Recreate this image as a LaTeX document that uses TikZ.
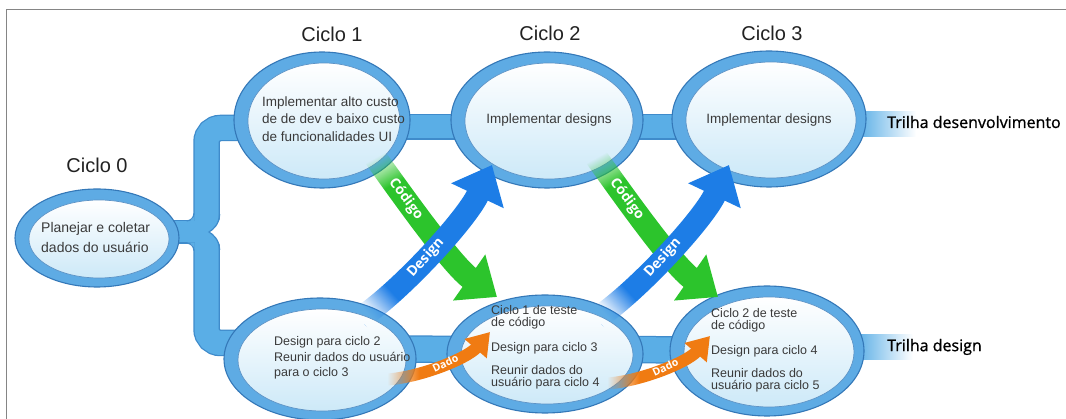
\documentclass[tikz,border=0pt]{standalone}
\usepackage{fontspec}
\setmainfont{Liberation Sans}
\newfontfamily\labelfont{Open Sans}
\newfontfamily\trackfont[FakeBold=1.0]{Open Sans}
\usetikzlibrary{shapes.geometric,arrows.meta,calc,fadings}

\pgfdeclarelayer{bars}
\pgfsetlayers{bars,main}

\definecolor{barblue}{HTML}{5AAEE6}
\definecolor{baredge}{HTML}{3F8BCB}
\definecolor{ringblue}{HTML}{5EABE4}
\definecolor{ringedge}{HTML}{3478B8}
\definecolor{lensblue}{HTML}{CDE9F8}
\definecolor{txtgray}{HTML}{3A3A3A}
\definecolor{titlegray}{HTML}{222222}
\definecolor{codegreen}{HTML}{2CC42C}
\definecolor{designblue}{HTML}{1D7DE6}
\definecolor{dataorange}{HTML}{F07B12}
\definecolor{framegray}{HTML}{858585}

% fading used at the tail of each flow arrow: transparent, then opaque
\pgfdeclarehorizontalshading{startfadeshade}{400bp}{color(0bp)=(black); color(10bp)=(black); color(42bp)=(white); color(400bp)=(white)}
\pgfdeclarefading{startfade}{\pgfuseshading{startfadeshade}}

\tikzset{
  cyc/.style={ellipse, inner sep=0pt, fill=ringblue, draw=ringedge, line width=1.1pt},
  lens/.style={top color=white, bottom color=lensblue, draw=ringedge!80, line width=0.7pt},
  ctext/.style={text=txtgray, align=left, inner sep=0pt, anchor=west},
  ciclotitle/.style={font=\fontsize{20}{24}\selectfont, text=titlegray, inner sep=0pt},
  trilha/.style={font=\trackfont\fontsize{16}{19}\selectfont, text=black, inner sep=0pt, anchor=west},
  fadestart/.style 2 args={path fading=startfade, fit fading=false, fading transform={shift={(#1)}, rotate=#2}},
  codearrow/.style={draw=codegreen, line width=23pt, -{Triangle[width=54pt,length=34pt]}},
  designarrow/.style={draw=designblue, line width=23pt, -{Triangle[width=56pt,length=34pt]}},
  dataarrow/.style={draw=dataorange, line width=12pt, -{Triangle[width=28pt,length=22pt]}},
  arrowlbl/.style={font=\labelfont\bfseries\fontsize{14}{16}\selectfont, text=white, inner sep=0pt, sloped},
  datalbl/.style={font=\labelfont\bfseries\fontsize{10.5}{12}\selectfont, text=white, inner sep=0pt, sloped},
}

% cycle ellipse: name, x, y (downwards), x radius, y radius
\newcommand\ciclo[5]{%
  \node[cyc, minimum width=2*#4, minimum height=2*#5] (#1) at (#2,-#3) {};
  \path[lens] ($(#1.center)+(2,-1)$) ellipse [x radius=#4-12, y radius=#5-10];
}

% the blue track bars, drawn once for the edge and once for the fill
\newcommand\barlayer[2]{%
  \begin{scope}[draw=#2]
    \draw[line width=24+#1, rounded corners=14] (toparm) -- (brtop) -- (brbot) -- (botarm);
    \draw[line width=21+#1] ([yshift=6]e0.center) -- (brmid);
    \draw[line width=23+#1] ([yshift=-7]t1.center) -- ([yshift=-8]t3.center);
    \draw[line width=25+#1] ([yshift=10]b1.center) -- ([yshift=1]b3.center);
  \end{scope}}

\begin{document}
\begin{tikzpicture}[x=1pt,y=1pt]
\useasboundingbox (0,0) rectangle (1066,-419);

% cycles
\ciclo{e0}{97}{238}{82}{49}
\ciclo{t1}{322}{120}{88}{68}
\ciclo{t2}{547}{120}{96}{68}
\ciclo{t3}{769}{119}{97}{68}
\ciclo{b1}{320}{359}{96}{61}
\ciclo{b2}{545}{354}{98}{59}
\ciclo{b3}{767}{351}{97}{65}

% bracket corners
\coordinate (brtop) at (206.5,-128);
\coordinate (brmid) at (206.5,-232);
\coordinate (brbot) at (206.5,-343);
\coordinate (toparm) at ([yshift=-8]t1.center);
\coordinate (botarm) at ([yshift=16]b1.center);

\begin{pgfonlayer}{bars}
  \fill[white] (0,0) rectangle (1066,-419);
  \barlayer{2.5}{baredge}
  \barlayer{0}{barblue}
  % notch of the bracket
  \fill[white] (221.5,-213) .. controls (219.5,-225) and (213,-229.5) .. (209,-232)
    .. controls (213,-234.5) and (219.5,-239) .. (221.5,-251) -- cycle;
  \draw[baredge, line width=1.2] (219.7,-214) .. controls (219,-225) and (213,-229.5) .. (209,-232)
    .. controls (213,-234.5) and (219,-239) .. (219.7,-250);
  % fillets where the arm from cycle 0 meets the bracket
  \fill[barblue] (194.6,-213.5) arc[start angle=0, end angle=-90, radius=8.1] -- (194.6,-221.6) -- cycle;
  \fill[barblue] (186.5,-242.4) arc[start angle=90, end angle=0, radius=8.1] -- (194.6,-242.4) -- cycle;
  \draw[baredge, line width=1.2] (193.9,-213.5) arc[start angle=0, end angle=-90, radius=7.4];
  \draw[baredge, line width=1.2] (186.5,-243.1) arc[start angle=90, end angle=0, radius=7.4];
  % track ends
  \shade[left color=barblue, right color=white] (858,-112) rectangle (916,-137);
  \shade[left color=barblue, right color=white] (856,-335) rectangle (913,-360);
\end{pgfonlayer}

% frame
\draw[framegray, line width=1.8] (6.5,-419) -- (6.5,-9.5) -- (1066,-9.5);

% texts inside the cycles
\node[ctext, font=\fontsize{14}{20}\selectfont] (e0t) at (41,-237) {Planejar e coletar\\dados do usuário};
\node[ctext, font=\fontsize{13.5}{17.5}\selectfont] (t1t) at (262,-119) {Implementar alto custo\\de de dev e baixo custo\\de funcionalidades UI};
\node[ctext, anchor=center, font=\fontsize{13.5}{16}\selectfont] (t2t) at (549,-120) {Implementar designs};
\node[ctext, anchor=center, font=\fontsize{13.5}{16}\selectfont] (t3t) at (769,-120) {Implementar designs};
\node[ctext, font=\fontsize{12.5}{15.5}\selectfont] (b1t) at (274,-358) {Design para ciclo 2\\Reunir dados do usuário\\para o ciclo 3};
\node[ctext, font=\fontsize{12.5}{12}\selectfont] (b2t) at (491,-347) {Ciclo 1 de teste\\de código\\[13pt]Design para ciclo 3\\[11pt]Reunir dados do\\usuário para ciclo 4};
\node[ctext, font=\fontsize{12.5}{12}\selectfont] (b3t) at (711,-350) {Ciclo 2 de teste\\de código\\[13pt]Design para ciclo 4\\[11pt]Reunir dados do\\usuário para ciclo 5};

% data arrows
\coordinate (o1s) at (378,-380); \coordinate (o1a) at (415,-380);
\coordinate (o1b) at (467,-358.6); \coordinate (o1e) at (490,-332);
\coordinate (o1f) at (578,-380);
\draw[dataarrow, fadestart={o1f}{0}] (o1s) .. controls (o1a) and (o1b) .. (o1e);
\path (o1s) .. controls (o1a) and (o1b) .. (o1e) node[datalbl, pos=0.55] (o1l) {Dado};

\coordinate (o2s) at (598,-384); \coordinate (o2a) at (635,-384);
\coordinate (o2b) at (687,-362.6); \coordinate (o2e) at (710,-336);
\coordinate (o2f) at (798,-384);
\draw[dataarrow, fadestart={o2f}{0}] (o2s) .. controls (o2a) and (o2b) .. (o2e);
\path (o2s) .. controls (o2a) and (o2b) .. (o2e) node[datalbl, pos=0.55] (o2l) {Dado};

% code arrows
\coordinate (g1s) at (370,-150); \coordinate (g1a) at (400,-192);
\coordinate (g1b) at (452,-265.5); \coordinate (g1e) at (497,-297);
\coordinate (g1f) at (468,-324);
\draw[codearrow, fadestart={g1f}{-60.6}] (g1s) .. controls (g1a) and (g1b) .. (g1e);
\path (g1s) .. controls (g1a) and (g1b) .. (g1e) node[arrowlbl, pos=0.33] (g1l) {Código};

\coordinate (g2s) at (591,-150); \coordinate (g2a) at (621,-192);
\coordinate (g2b) at (673,-265.5); \coordinate (g2e) at (718,-297);
\coordinate (g2f) at (689,-324);
\draw[codearrow, fadestart={g2f}{-60.6}] (g2s) .. controls (g2a) and (g2b) .. (g2e);
\path (g2s) .. controls (g2a) and (g2b) .. (g2e) node[arrowlbl, pos=0.33] (g2l) {Código};

% design arrows
\coordinate (d1s) at (360,-318); \coordinate (d1a) at (395,-296);
\coordinate (d1b) at (465,-222); \coordinate (d1e) at (492,-165);
\coordinate (d1f) at (508,-184);
\draw[designarrow, fadestart={d1f}{42.2}] (d1s) .. controls (d1a) and (d1b) .. (d1e);
\path (d1s) .. controls (d1a) and (d1b) .. (d1e) node[arrowlbl, pos=0.48] (d1l) {Design};

\coordinate (d2s) at (597,-318); \coordinate (d2a) at (632,-296);
\coordinate (d2b) at (702,-222); \coordinate (d2e) at (729,-165);
\coordinate (d2f) at (745,-184);
\draw[designarrow, fadestart={d2f}{42.2}] (d2s) .. controls (d2a) and (d2b) .. (d2e);
\path (d2s) .. controls (d2a) and (d2b) .. (d2e) node[arrowlbl, pos=0.48] (d2l) {Design};

% titles and track labels
\node[ciclotitle] (c0) at (97,-165) {Ciclo 0};
\node[ciclotitle] (c1) at (332,-34) {Ciclo 1};
\node[ciclotitle] (c2) at (550,-33) {Ciclo 2};
\node[ciclotitle] (c3) at (772,-33) {Ciclo 3};
\node[trilha] (tdev) at (887,-122) {Trilha desenvolvimento};
\node[trilha] (tdes) at (887,-347) {Trilha design};
\end{tikzpicture}
\end{document}
